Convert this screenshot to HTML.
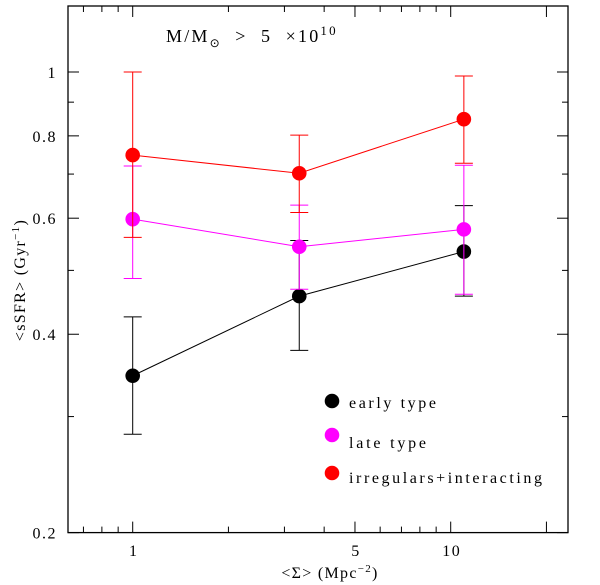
<!DOCTYPE html>
<html><head><meta charset="utf-8"><style>
body{margin:0;background:#fff}
svg{display:block;font-family:"Liberation Serif",serif}
</style></head><body>
<svg id="chart" width="600" height="585">
<rect x="68" y="6" width="500" height="526.6" fill="none" stroke="#000" stroke-width="1.3"/>
<g id="ticks"></g>
<g id="series"></g>
<text x="166" y="42" font-size="18" letter-spacing="2.2">M/M<tspan font-size="12" dy="5">⊙</tspan><tspan dy="-5" xml:space="preserve">  &gt;  5  ×10</tspan><tspan font-size="13" dy="-7">10</tspan></text>
<text x="330" y="578" font-size="16" letter-spacing="1.3" text-anchor="middle">&lt;Σ&gt; (Mpc<tspan font-size="11" dy="-6">−2</tspan><tspan dy="6">)</tspan></text>
<text transform="translate(25,280) rotate(-90)" font-size="16" letter-spacing="1.3" text-anchor="middle">&lt;sSFR&gt; (Gyr<tspan font-size="11" dy="-6">−1</tspan><tspan dy="6">)</tspan></text>
<g id="legend"></g>
</svg>
<script>
const xVals=[1,3.34,11.0];
const seriesNames=["early type","late type","irregulars+interacting"];
const seriesColors=["#000","#ff00ff","#ff0000"];
const earlyY=[0.346,0.457,0.534];
const earlyLo=[0.282,0.378,0.457];
const earlyHi=[0.425,0.555,0.627];
const lateY=[0.598,0.543,0.577];
const lateLo=[0.486,0.468,0.460];
const lateHi=[0.72,0.628,0.722];
const irrY=[0.748,0.702,0.848];
const irrLo=[0.561,0.612,0.727];
const irrHi=[1.0,0.802,0.986];
const xMajor=[1,5,10,20];const xLabels=["1","5","10",""];
const xMinor=[0.7,0.8,0.9,2,3,4,6,7,8,9];
const yMajor=[0.2,0.4,0.6,0.8,1];const yLabels=["0.2","0.4","0.6","0.8","1"];
const yMinor=[0.3,0.5,0.7,0.9];
const NS="http://www.w3.org/2000/svg";
function X(v){return 132.7+318*Math.log10(v);}
function Y(v){return 72-659*Math.log10(v);}
function mk(t,a,p){const e=document.createElementNS(NS,t);for(const k in a)e.setAttribute(k,a[k]);p.appendChild(e);return e;}
const T=document.getElementById('ticks');
function xt(v,len){
 let l=mk('line',{x1:X(v),x2:X(v),y1:532.6,y2:532.6-len,stroke:'#000'},T);
 
 
 let l2=mk('line',{x1:X(v),x2:X(v),y1:6,y2:6+len,stroke:'#000'},T);
 
 
}
function yt(v,len){
 let l=mk('line',{x1:68,x2:68+len,y1:Y(v),y2:Y(v),stroke:'#000'},T);
 
 
 let l2=mk('line',{x1:568,x2:568-len,y1:Y(v),y2:Y(v),stroke:'#000'},T);
 
 
}
xMajor.forEach((v,i)=>{xt(v,11);if(xLabels[i]){let t=mk('text',{x:X(v)+1,y:556,'font-size':16,'letter-spacing':1.5,'text-anchor':'middle'},T);t.textContent=xLabels[i];
 
 }});
xMinor.forEach(v=>xt(v,6));
yMajor.forEach((v,i)=>{yt(v,11);let t=mk('text',{x:57,y:Y(v)+6,'font-size':16,'letter-spacing':1.5,'text-anchor':'end'},T);t.textContent=yLabels[i];
 
 });
yMinor.forEach(v=>yt(v,6));
const S=document.getElementById('series');
const all=[[earlyY,earlyLo,earlyHi],[lateY,lateLo,lateHi],[irrY,irrLo,irrHi]];
all.forEach((d,si)=>{
 const c=seriesColors[si];
 const g=mk('g',{},S);
 
 
 const pts=xVals.map((x,i)=>X(x)+','+Y(d[0][i])).join(' ');
 const pl=mk('polyline',{points:pts,fill:'none',stroke:c,'stroke-width':1},g);
 
 
 xVals.forEach((x,i)=>{
  const cx=X(x);
  const e=mk('path',{d:`M${cx},${Y(d[1][i])}V${Y(d[2][i])}M${cx-9},${Y(d[1][i])}h18M${cx-9},${Y(d[2][i])}h18`,stroke:c,fill:'none','stroke-width':1},g);
  
  
  const p=mk('circle',{cx:cx,cy:Y(d[0][i]),r:7.3,fill:c},g);
  
  
 });
});
const L=document.getElementById('legend');
const legY=[401,435,473];
const legBase=[408,448,483];
const legW=[87,77,193];
seriesNames.forEach((n,i)=>{
 const g=mk('g',{},L);
 
 
 mk('circle',{cx:332,cy:legY[i],r:7.3,fill:seriesColors[i]},g);
 const t=mk('text',{x:349,y:legBase[i],'font-size':16,textLength:legW[i],lengthAdjust:'spacing'},g);t.textContent=n;
});
</script>
</body></html>
